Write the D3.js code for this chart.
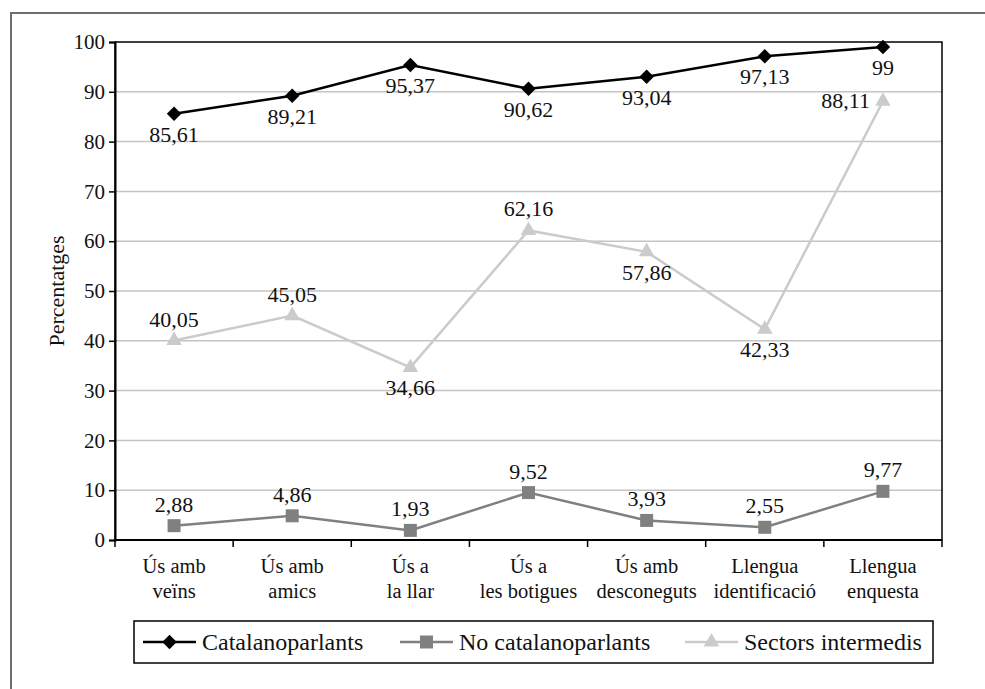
<!DOCTYPE html>
<html>
<head>
<meta charset="utf-8">
<script src="https://cdn.jsdelivr.net/npm/d3@7"></script>
<style>
  body { margin: 0; background: #fff; }
  svg, svg text { font-family: "Liberation Serif", "Times New Roman", Tinos, "DejaVu Serif", serif !important; fill: #111; }
</style>
</head>
<body>
<svg id="chart"></svg>
<script>
const categories = [
  ["Ús amb", "veïns"],
  ["Ús amb", "amics"],
  ["Ús a", "la llar"],
  ["Ús a", "les botigues"],
  ["Ús amb", "desconeguts"],
  ["Llengua", "identificació"],
  ["Llengua", "enquesta"],
];
const catalanoparlants = [85.61, 89.21, 95.37, 90.62, 93.04, 97.13, 99];
const noCatalanoparlants = [2.88, 4.86, 1.93, 9.52, 3.93, 2.55, 9.77];
const sectorsIntermedis = [40.05, 45.05, 34.66, 62.16, 57.86, 42.33, 88.11];
const yTicks = [0, 10, 20, 30, 40, 50, 60, 70, 80, 90, 100];

// where each data label sits relative to its point
const sectorsLabelPos = ["above", "above", "below", "above", "below", "below", "left"];

const FONT = '"Liberation Serif", "Times New Roman", Tinos, "DejaVu Serif", serif';

const width = 985, height = 689;
const margin = { top: 42, right: 43, bottom: 149, left: 115 };
const innerW = width - margin.left - margin.right;
const innerH = height - margin.top - margin.bottom;

const svg = d3.select("#chart").attr("width", width).attr("height", height)
  .attr("font-family", FONT);

// outer frame (top and left only)
svg.append("path")
  .attr("d", `M11,${height} V13 H${width}`)
  .attr("fill", "none")
  .attr("stroke", "#6e6e6e")
  .attr("stroke-width", 2);

const g = svg.append("g").attr("transform", `translate(${margin.left},${margin.top})`);

const x = d3.scaleBand().domain(d3.range(categories.length)).range([0, innerW]);
const y = d3.scaleLinear().domain([0, 100]).range([innerH, 0]);
const cx = (i) => x(i) + x.bandwidth() / 2;

// gridlines
g.selectAll(".grid")
  .data(yTicks.filter((t) => t > 0 && t < 100))
  .join("line")
  .attr("x1", 0)
  .attr("x2", innerW)
  .attr("y1", (d) => y(d))
  .attr("y2", (d) => y(d))
  .attr("stroke", "#c4c4c4")
  .attr("stroke-width", 1.5);

// plot border
g.append("rect")
  .attr("width", innerW)
  .attr("height", innerH)
  .attr("fill", "none")
  .attr("stroke", "#000")
  .attr("stroke-width", 1.5);

// y axis
const yAxis = g.append("g")
  .call(d3.axisLeft(y).tickValues(yTicks).tickSize(6).tickPadding(4));
yAxis.attr("font-family", FONT);
yAxis.select(".domain").attr("stroke-width", 2);
yAxis.selectAll(".tick line").attr("stroke-width", 1.5);
yAxis.selectAll("text").attr("font-size", 21).attr("fill", "#111");

// x axis: ticks at category boundaries
const xAxis = g.append("g").attr("transform", `translate(0,${innerH})`);
xAxis.append("line")
  .attr("x1", 0).attr("x2", innerW)
  .attr("stroke", "#000").attr("stroke-width", 2);
xAxis.selectAll(".xtick")
  .data(d3.range(categories.length + 1))
  .join("line")
  .attr("x1", (i) => i * x.step())
  .attr("x2", (i) => i * x.step())
  .attr("y1", 0).attr("y2", 7)
  .attr("stroke", "#000").attr("stroke-width", 1.5);
xAxis.selectAll(".xlabel")
  .data(categories)
  .join("text")
  .attr("text-anchor", "middle")
  .attr("font-size", 20.5)
  .attr("transform", (d, i) => `translate(${cx(i)},0)`)
  .selectAll("tspan")
  .data((d) => d)
  .join("tspan")
  .attr("x", 0)
  .attr("y", (d, j) => 33 + j * 25)
  .text((d) => d);

// y label
svg.append("text")
  .attr("transform", `translate(64,${margin.top + innerH / 2}) rotate(-90)`)
  .attr("text-anchor", "middle")
  .attr("font-size", 22)
  .text("Percentatges");

// diamond = square turned 45 degrees
const series = [
  { name: "Catalanoparlants", values: catalanoparlants, color: "#000", marker: d3.symbolSquare, size: 105, rotate: 45, labels: catalanoparlants.map(() => "below") },
  { name: "No catalanoparlants", values: noCatalanoparlants, color: "#808080", marker: d3.symbolSquare, size: 169, rotate: 0, labels: noCatalanoparlants.map(() => "above") },
  { name: "Sectors intermedis", values: sectorsIntermedis, color: "#cbcbcb", marker: d3.symbolTriangle, size: 105, rotate: 0, labels: sectorsLabelPos },
];

const line = d3.line().x((d, i) => cx(i)).y((d) => y(d));
const fmt = (v) => String(v).replace(".", ",");

// draw back to front so the black series sits on top
series.slice().reverse().forEach((s) => {
  const sg = g.append("g");
  sg.append("path")
    .attr("d", line(s.values))
    .attr("fill", "none")
    .attr("stroke", s.color)
    .attr("stroke-width", 2.5);
  sg.selectAll(".pt")
    .data(s.values)
    .join("path")
    .attr("d", d3.symbol().type(s.marker).size(s.size))
    .attr("transform", (d, i) => `translate(${cx(i)},${y(d)}) rotate(${s.rotate})`)
    .attr("fill", s.color);
  sg.selectAll(".lbl")
    .data(s.values)
    .join("text")
    .attr("font-size", 22)
    .attr("text-anchor", (d, i) => (s.labels[i] === "left" ? "end" : "middle"))
    .attr("x", (d, i) => (s.labels[i] === "left" ? cx(i) - 13 : cx(i)))
    .attr("y", (d, i) => {
      const p = s.labels[i];
      if (p === "below") return y(d) + 28;
      if (p === "above") return y(d) - 14;
      return y(d) + 7;
    })
    .text((d) => fmt(d));
});

// legend
const legend = svg.append("g");
legend.append("rect")
  .attr("x", 134).attr("y", 621)
  .attr("width", 799).attr("height", 42)
  .attr("fill", "#fff").attr("stroke", "#000").attr("stroke-width", 1.5);
const legendX = [143, 400, 685];
series.forEach((s, i) => {
  const lg = legend.append("g").attr("transform", `translate(${legendX[i]},642)`);
  lg.append("line").attr("x1", 0).attr("x2", 53)
    .attr("stroke", s.color).attr("stroke-width", 2.5);
  lg.append("path")
    .attr("d", d3.symbol().type(s.marker).size(s.size))
    .attr("transform", `translate(26.5,0) rotate(${s.rotate})`)
    .attr("fill", s.color);
  lg.append("text")
    .attr("x", 59).attr("y", 8)
    .attr("font-size", 24)
    .text(s.name);
});
</script>
</body>
</html>
